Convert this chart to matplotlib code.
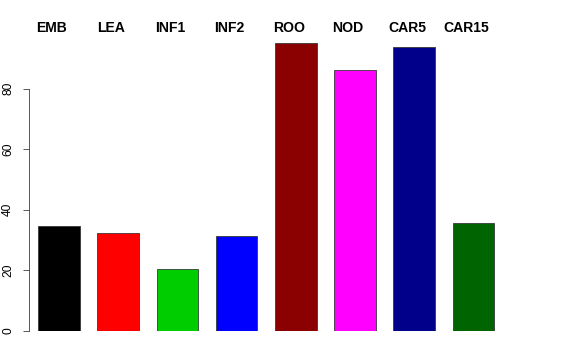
import matplotlib.pyplot as plt
import numpy as np

plt.rcParams['font.family'] = ['Liberation Sans', 'DejaVu Sans']

# values
tissues = ["EMB", "LEA", "INF1", "INF2", "ROO", "NOD", "CAR5", "CAR15"]
values = [34.7, 32.5, 20.3, 31.2, 95.0, 86.1, 93.6, 35.7]
colors = ["black", "red", "#00CD00", "blue", "#8B0000", "magenta", "#00008B", "#006400"]
yticks = [0, 20, 40, 60, 80]

W, H = 576, 360
fig = plt.figure(figsize=(W / 72, H / 72), dpi=72)
# axes placed in pixel units: left 29, right 530, bottom 331, top 20 (from top)
ax = fig.add_axes([29 / W, (H - 331) / H, (530 - 29) / W, (331 - 20) / H])

x = np.arange(len(tissues))
ax.bar(x, values, width=0.7, color=colors, edgecolor="#333333", linewidth=0.8)

ax.set_xlim((29 - 59) / 59.2, (530 - 59) / 59.2)
ax.set_ylim(0, (331 - 20) / 3.03)

for s in ["top", "right", "bottom"]:
    ax.spines[s].set_visible(False)
ax.spines["left"].set_bounds(0, 80)
ax.spines["left"].set_color("#333333")
ax.set_xticks([])
ax.set_yticks(yticks)
ax.set_yticklabels([str(t) for t in yticks], rotation=90, va="center")
ax.tick_params(axis="y", length=6, pad=9, labelsize=12, color="#333333")

# tissue names along the top
for xi, name in zip(x, tissues):
    ax.text(xi - 0.12, 100, name, ha="center", va="center",
            fontsize=14, fontweight="bold", clip_on=False)

fig.savefig("out.png", dpi=72)
